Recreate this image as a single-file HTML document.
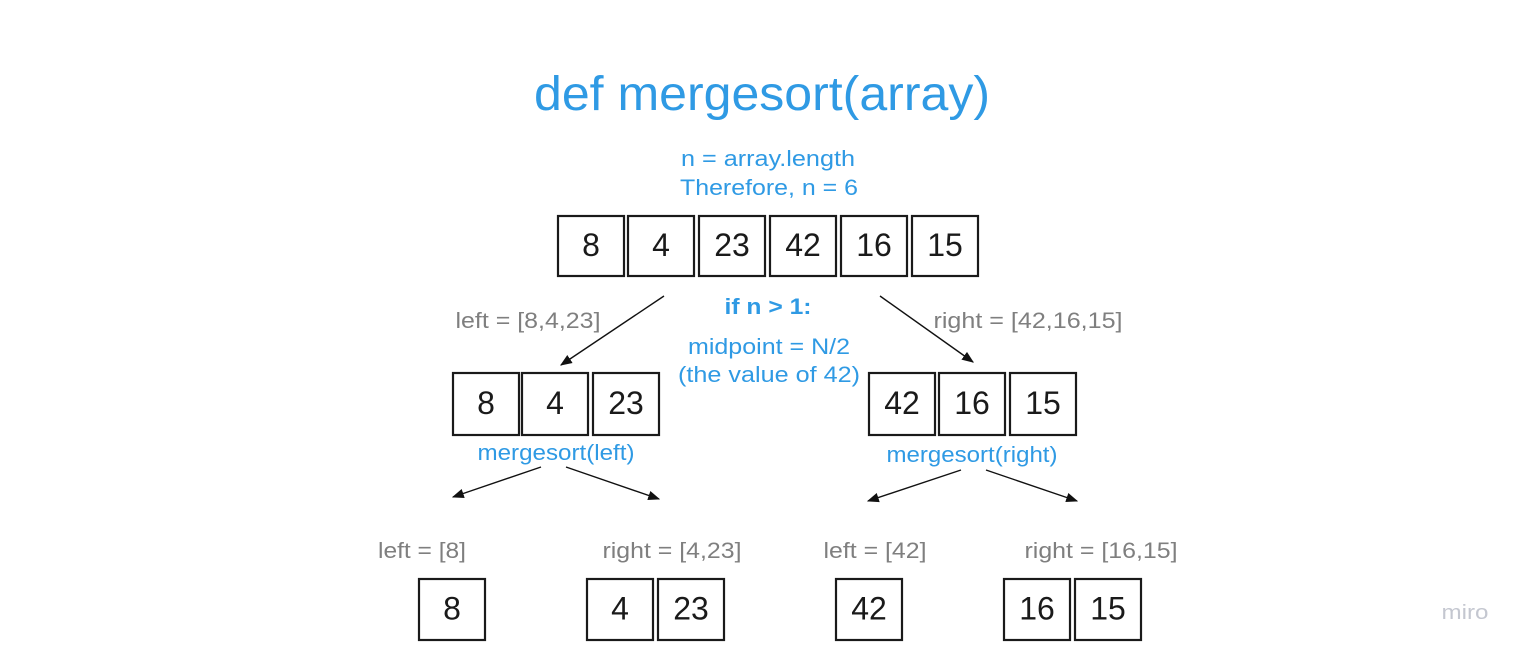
<!DOCTYPE html>
<html><head><meta charset="utf-8"><style>
html,body{margin:0;padding:0;background:#fff;}
svg{display:block;font-family:"Liberation Sans",sans-serif;}
.b{fill:#fff;stroke:#1a1a1a;stroke-width:2.2}
.n{font-size:32px;fill:#1a1a1a;text-anchor:middle}
.g{font-size:22px;fill:#7f7f7f;text-anchor:middle}
.bl{font-size:22px;fill:#2f9ae4;text-anchor:middle}
.ar{stroke:#111;stroke-width:1.4;marker-end:url(#ah)}
</style></head><body>
<svg width="1525" height="655" viewBox="0 0 1525 655">
<defs><marker id="ah" viewBox="0 0 10 10" refX="9" refY="5" markerWidth="12" markerHeight="12" markerUnits="userSpaceOnUse" orient="auto"><path d="M0,1 L10,5 L0,9 z" fill="#111"/></marker></defs>
<text x="762" y="110" font-size="48" fill="#2f9ae4" text-anchor="middle" textLength="456" lengthAdjust="spacingAndGlyphs">def mergesort(array)</text>
<text x="768" y="166" class="bl" textLength="174" lengthAdjust="spacingAndGlyphs">n = array.length</text>
<text x="769" y="195" class="bl" textLength="178" lengthAdjust="spacingAndGlyphs">Therefore, n = 6</text>
<g id="boxes"></g>
<line x1="664" y1="296" x2="561" y2="365" class="ar"/>
<line x1="880" y1="296" x2="973" y2="362" class="ar"/>
<text x="528" y="328" class="g" textLength="145" lengthAdjust="spacingAndGlyphs">left = [8,4,23]</text>
<text x="1028" y="328" class="g" textLength="189" lengthAdjust="spacingAndGlyphs">right = [42,16,15]</text>
<text x="768" y="314" class="bl" font-weight="bold" textLength="87" lengthAdjust="spacingAndGlyphs">if n &gt; 1:</text>
<text x="769" y="354" class="bl" textLength="162" lengthAdjust="spacingAndGlyphs">midpoint = N/2</text>
<text x="769" y="382" class="bl" textLength="182" lengthAdjust="spacingAndGlyphs">(the value of 42)</text>
<text x="556" y="460" class="bl" textLength="157" lengthAdjust="spacingAndGlyphs">mergesort(left)</text>
<text x="972" y="462" class="bl" textLength="171" lengthAdjust="spacingAndGlyphs">mergesort(right)</text>
<line x1="541" y1="467" x2="453" y2="497" class="ar"/>
<line x1="566" y1="467" x2="659" y2="499" class="ar"/>
<line x1="961" y1="470" x2="868" y2="501" class="ar"/>
<line x1="986" y1="470" x2="1077" y2="501" class="ar"/>
<text x="422" y="558" class="g" textLength="88" lengthAdjust="spacingAndGlyphs">left = [8]</text>
<text x="672" y="558" class="g" textLength="139" lengthAdjust="spacingAndGlyphs">right = [4,23]</text>
<text x="875" y="558" class="g" textLength="103" lengthAdjust="spacingAndGlyphs">left = [42]</text>
<text x="1101" y="558" class="g" textLength="153" lengthAdjust="spacingAndGlyphs">right = [16,15]</text>
<text x="1465" y="619" font-size="20" fill="#c4c7d0" text-anchor="middle" textLength="47" lengthAdjust="spacingAndGlyphs">miro</text>
</svg>
<script>
const rows=[
 {y:216,h:60,xs:[558,628,699,770,841,912],v:["8","4","23","42","16","15"]},
 {y:373,h:62,xs:[453,522,593,869,939,1010],v:["8","4","23","42","16","15"]},
 {y:579,h:61,xs:[419,587,658,836,1004,1075],v:["8","4","23","42","16","15"]}
];
const g=document.getElementById('boxes');const NS='http://www.w3.org/2000/svg';
rows.forEach((r,ri)=>r.xs.forEach((x,i)=>{
 const rect=document.createElementNS(NS,'rect');
 rect.setAttribute('x',x);rect.setAttribute('y',r.y);rect.setAttribute('width',66);rect.setAttribute('height',r.h);rect.setAttribute('class','b');
 
 
 g.appendChild(rect);
 const t=document.createElementNS(NS,'text');
 t.setAttribute('x',x+33);t.setAttribute('y',r.y+r.h/2+10);t.setAttribute('class','n');t.textContent=r.v[i];
 
 
 g.appendChild(t);
}));
</script>
</body></html>
